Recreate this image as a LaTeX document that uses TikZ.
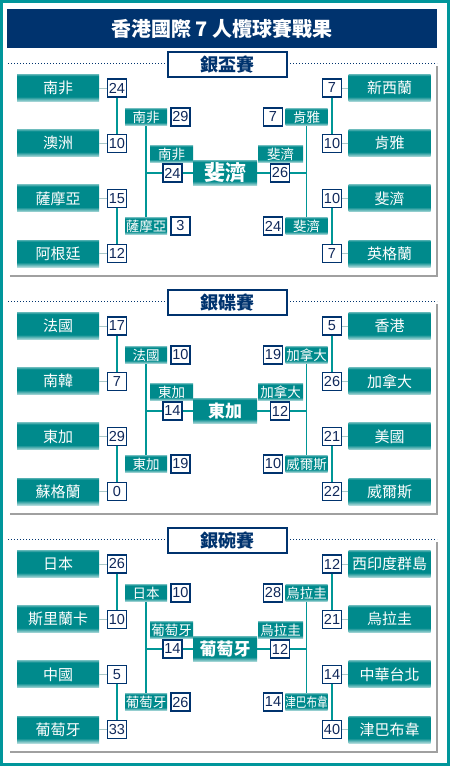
\documentclass[tikz,border=0pt]{standalone}
\usepackage{fontspec}
\setmainfont{Liberation Sans}
\newfontfamily\cjk{Noto Sans CJK TC}
\definecolor{cNavy}{RGB}{0,51,110}
\definecolor{cTeal}{RGB}{0,138,140}
\definecolor{cLine}{RGB}{0,150,150}
\definecolor{cStub}{RGB}{170,200,200}
\definecolor{cShade}{RGB}{160,160,160}
\definecolor{cFrame}{RGB}{0,150,155}
\definecolor{cDigit}{RGB}{15,40,90}
\pgfdeclareverticalshading{tealfade}{100bp}{color(0bp)=(cTeal!30); color(25bp)=(cTeal!30);
  color(34bp)=(cTeal); color(72bp)=(cTeal); color(75bp)=(cTeal!70); color(100bp)=(cTeal!70)}

% one bracket: title, left teams, right teams, left semis, right semis, left final, right final, winner
\newcommand{\cupsection}[8]{%
  \draw[dots] (8,63) -- (437,63);
  \draw[shadowline] (10,276) -- (437,276) -- (437,66);
  \node[cuptitle] (ttl) at (227.5,64.5) {#1};
  \foreach \t/\s [count=\i] in {#2} {
    \node[team] (tL\i) at (58,{88+55.2*(\i-1)}) {\t};
    \node[score] (sL\i) at (117,{88+55.2*(\i-1)}) {\s};
    \draw[stub] (tL\i) -- (sL\i);
  }
  \foreach \t/\s [count=\i] in {#3} {
    \node[team] (tR\i) at (389.5,{88+55.2*(\i-1)}) {\t};
    \node[score] (sR\i) at (332,{88+55.2*(\i-1)}) {\s};
    \draw[stub] (tR\i) -- (sR\i);
  }
  \foreach \t/\s [count=\i] in {#4} {
    \node[semi] (mL\i) at (146,{117+109*(\i-1)}) {\t};
    \node[score] (nL\i) at (180.5,{117+109*(\i-1)}) {\s};
  }
  \foreach \t/\s [count=\i] in {#5} {
    \node[semi] (mR\i) at (306.5,{117+109*(\i-1)}) {\t};
    \node[score] (nR\i) at (273,{117+109*(\i-1)}) {\s};
  }
  \foreach \t/\s in {#6} {
    \node[semi, minimum width=43pt] (fL) at (171.5,154) {\t};
    \node[score] (gL) at (172.5,173) {\s};
  }
  \foreach \t/\s in {#7} {
    \node[semi, minimum width=45pt] (fR) at (280.5,154) {\t};
    \node[score] (gR) at (280,173) {\s};
  }
  \node[champ] (win) at (225,173) {#8};
  \draw[ln] (sL1) -- (sL2);
  \draw[ln] (sL3) -- (sL4);
  \draw[ln] (sR1) -- (sR2);
  \draw[ln] (sR3) -- (sR4);
  \draw[ln] (mL1) -- (mL2);
  \draw[ln] (mR1) -- (mR2);
  \draw[ln] (mL1.south |- gL) -- (gL) (gL) -- (win);
  \draw[ln] (win) -- (gR) (gR) -- (mR1.south |- gR);
}

\begin{document}
\begin{tikzpicture}[x=1pt, y=-1pt,
    team/.style={shading=tealfade, minimum width=82pt, minimum height=27pt, inner sep=0pt,
      text=white, font=\cjk\fontsize{15}{16}\selectfont},
    semi/.style={shading=tealfade, minimum width=42pt, minimum height=17pt, inner sep=0pt,
      text=white, font=\cjk\fontsize{13.5}{14}\selectfont},
    score/.style={draw=cNavy, line width=1.3pt, fill=white, minimum width=19pt, minimum height=18pt,
      inner sep=0pt, text=cDigit, font=\fontsize{14.5}{15}\selectfont},
    champ/.style={shading=tealfade, minimum width=64pt, minimum height=25pt, inner sep=0pt,
      text=white, font=\cjk\bfseries\fontsize{17}{18}\selectfont},
    cuptitle/.style={draw=cNavy, line width=1.3pt, fill=white, minimum width=119pt, minimum height=25pt,
      inner sep=0pt, text=cNavy, font=\cjk\bfseries\fontsize{18}{19}\selectfont},
    ln/.style={draw=cLine, line width=1.5pt},
    stub/.style={draw=cStub, line width=1pt},
    dots/.style={draw=cNavy, line width=1pt, dotted},
    shadowline/.style={draw=cShade, line width=2.2pt}]
  \useasboundingbox (0,0) rectangle (450,766);
  \fill[white] (0,0) rectangle (450,766);
  \draw[cFrame, line width=3pt] (1.5,1.5) rectangle (448.5,764.5);
  \node[fill=cNavy, minimum width=430pt, minimum height=39pt, inner sep=0pt, text=white,
    font=\cjk\bfseries\fontsize{20}{21}\selectfont] (head) at (222,28.5) {香港國際 7 人欖球賽戰果};

  \begin{scope}[name prefix=a-]
    \cupsection{銀盃賽}{南非/24, 澳洲/10, 薩摩亞/15, 阿根廷/12}{新西蘭/7, 肯雅/10, 斐濟/10, 英格蘭/7}
      {南非/29, 薩摩亞/3}{肯雅/7, 斐濟/24}{南非/24}{斐濟/26}{\fontsize{21}{22}\selectfont 斐濟}
  \end{scope}

  \begin{scope}[yshift=-238pt, name prefix=b-]
    \cupsection{銀碟賽}{法國/17, 南韓/7, 東加/29, 蘇格蘭/0}{香港/5, 加拿大/26, 美國/21, 威爾斯/22}
      {法國/10, 東加/19}{加拿大/19, 威爾斯/10}{東加/14}{加拿大/12}{東加}
  \end{scope}

  \begin{scope}[yshift=-476pt, name prefix=c-]
    \cupsection{銀碗賽}{日本/26, 斯里蘭卡/10, 中國/5, 葡萄牙/33}{西印度群島/12, 烏拉圭/21, 中華台北/14, 津巴布韋/40}
      {日本/10, 葡萄牙/26}{烏拉圭/28, \scalebox{0.78}[1]{津巴布韋}/14}{葡萄牙/14}{烏拉圭/12}{葡萄牙}
  \end{scope}
\end{tikzpicture}
\end{document}
